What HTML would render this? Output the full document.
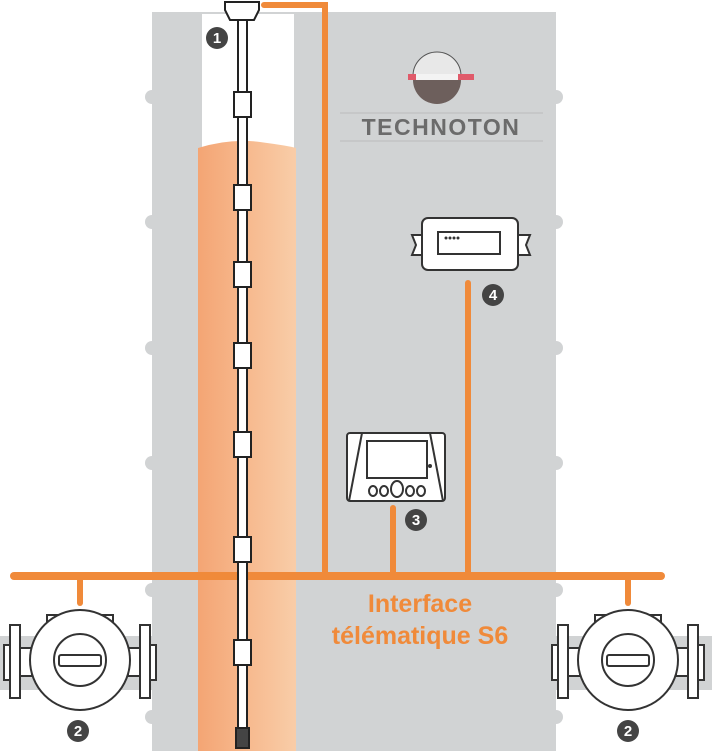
<!DOCTYPE html>
<html><head><style>body{margin:0;background:#fff}svg{display:block}</style></head><body>
<svg width="712" height="751" viewBox="0 0 712 751" xmlns="http://www.w3.org/2000/svg" font-family="Liberation Sans, sans-serif">
<defs>
<linearGradient id="fuel" x1="0" x2="1"><stop offset="0" stop-color="#f4a574"/><stop offset="1" stop-color="#f9cda8"/></linearGradient>
<g id="meter" stroke="#333" stroke-width="2" fill="#fff">
<rect x="-33" y="-45" width="66" height="14"/>
<rect x="-76" y="-15" width="6" height="35"/>
<rect x="-70" y="-35" width="10" height="73"/>
<rect x="60" y="-35" width="10" height="73"/>
<rect x="70" y="-15" width="6" height="35"/>
<rect x="-60" y="-12" width="12" height="28"/>
<rect x="48" y="-12" width="12" height="28"/>
<circle r="50"/>
<circle r="26"/>
<rect x="-21" y="-5" width="42" height="11" rx="2"/>
</g>
</defs>
<rect x="0" y="636" width="152" height="54" fill="#d1d3d4"/>
<rect x="556" y="636" width="156" height="54" fill="#d1d3d4"/>
<rect x="152" y="12" width="404" height="739" fill="#d1d3d4"/>
<g fill="#d1d3d4">
<circle cx="152" cy="97" r="7"/><circle cx="152" cy="222" r="7"/><circle cx="152" cy="348" r="7"/><circle cx="152" cy="463" r="7"/><circle cx="152" cy="590" r="7"/><circle cx="152" cy="717" r="7"/>
<circle cx="556" cy="97" r="7"/><circle cx="556" cy="222" r="7"/><circle cx="556" cy="348" r="7"/><circle cx="556" cy="463" r="7"/><circle cx="556" cy="590" r="7"/><circle cx="556" cy="717" r="7"/>
</g>
<rect x="202" y="14" width="92" height="135" fill="#fff"/>
<path d="M198 148 Q230 138 260 142 T296 148 L296 751 L198 751 Z" fill="url(#fuel)"/>
<!-- logo -->
<path d="M413 76 A24 24 0 0 1 461 76 Z" fill="#e8e8e8" stroke="#555" stroke-width="1"/>
<path d="M413 80 L461 80 A24 24 0 0 1 413 80 Z" fill="#6d5f5c"/>
<rect x="408" y="74" width="8" height="6" fill="#e05a6a"/><rect x="458" y="74" width="16" height="6" fill="#e05a6a"/>
<rect x="416" y="74" width="42" height="6" fill="#f3f3f3"/>
<line x1="340" y1="113" x2="543" y2="113" stroke="#bbb"/>
<line x1="340" y1="141" x2="543" y2="141" stroke="#bbb"/>
<text x="441" y="135" font-size="23" font-weight="bold" fill="#6b6b6b" text-anchor="middle" letter-spacing="1.5">TECHNOTON</text>
<g stroke="#f08a3a" stroke-width="6" fill="none" stroke-linecap="round">
<polyline points="264,5 325,5 325,575"/>
<line x1="14" y1="576" x2="661" y2="576" stroke-width="8"/>
<line x1="80" y1="576" x2="80" y2="603"/>
<line x1="628" y1="576" x2="628" y2="603"/>
<line x1="393" y1="508" x2="393" y2="576"/>
<line x1="468" y1="283" x2="468" y2="576"/>
</g>
<rect x="238" y="18" width="9" height="712" fill="#fff" stroke="#222" stroke-width="2"/>
<path d="M225 2 H259 V10 L254 20 H230 L225 10Z" fill="#fff" stroke="#222" stroke-width="2"/>
<g fill="#fff" stroke="#222" stroke-width="2">
<rect x="234" y="92" width="17" height="25"/><rect x="234" y="185" width="17" height="25"/><rect x="234" y="262" width="17" height="25"/><rect x="234" y="343" width="17" height="25"/><rect x="234" y="432" width="17" height="25"/><rect x="234" y="537" width="17" height="25"/><rect x="234" y="640" width="17" height="25"/>
<rect x="236" y="728" width="13" height="20" fill="#444"/>
</g>
<g stroke="#333" stroke-width="2" fill="#fff">
<path d="M412 235 H424 V255 H412 L416 245Z"/><path d="M530 235 H518 V255 H530 L526 245Z"/>
<rect x="422" y="218" width="96" height="52" rx="6"/>
<rect x="438" y="232" width="62" height="22"/>
</g>
<g fill="#333"><circle cx="446" cy="238" r="1.5"/><circle cx="450" cy="238" r="1.5"/><circle cx="454" cy="238" r="1.5"/><circle cx="458" cy="238" r="1.5"/></g>
<g stroke="#333" stroke-width="2" fill="#fff">
<rect x="347" y="433" width="98" height="68" rx="3"/>
<path d="M362 433 L349 501 M430 433 L443 501" fill="none"/>
<rect x="367" y="441" width="60" height="37"/>
<ellipse cx="373" cy="491" rx="4" ry="5"/><ellipse cx="384" cy="491" rx="4" ry="5"/><ellipse cx="397" cy="489" rx="6" ry="8"/><ellipse cx="410" cy="491" rx="4" ry="5"/><ellipse cx="421" cy="491" rx="4" ry="5"/>
</g>
<circle cx="430" cy="466" r="2" fill="#333"/>
<use href="#meter" x="80" y="660"/>
<use href="#meter" x="628" y="660"/>
<g font-size="15" font-weight="bold" fill="#fff" text-anchor="middle">
<circle cx="217" cy="38" r="11" fill="#444"/><text x="217" y="43">1</text>
<circle cx="78" cy="731" r="11" fill="#444"/><text x="78" y="736">2</text>
<circle cx="628" cy="731" r="11" fill="#444"/><text x="628" y="736">2</text>
<circle cx="416" cy="520" r="11" fill="#444"/><text x="416" y="525">3</text>
<circle cx="493" cy="295" r="11" fill="#444"/><text x="493" y="300">4</text>
</g>
<text x="420" y="612" font-size="25" font-weight="bold" fill="#f08a3a" text-anchor="middle">Interface</text>
<text x="420" y="644" font-size="25" font-weight="bold" fill="#f08a3a" text-anchor="middle">télématique S6</text>
</svg>
</body></html>
